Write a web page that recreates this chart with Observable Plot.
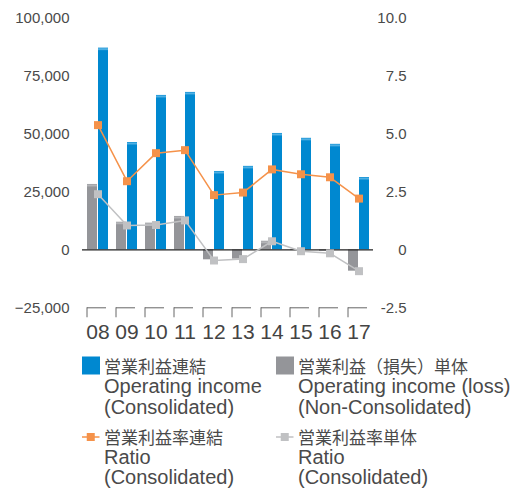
<!DOCTYPE html>
<html>
<head>
<meta charset="utf-8">
<script src="https://cdn.jsdelivr.net/npm/d3@7"></script>
<script src="https://cdn.jsdelivr.net/npm/@observablehq/plot@0.6"></script>
<style>
  html, body { margin: 0; padding: 0; background: #fff; }
  body { width: 520px; font-family: "Liberation Sans", Arial, "Noto Sans CJK JP", sans-serif; color: #4a4a4a; }
  #legend { position: relative; height: 138px; }
  .item { position: absolute; }
  .sym { position: absolute; left: 0; top: 0; }
  .txt { position: absolute; white-space: nowrap; font-size: 20px; }
  .jp { font-family: "Noto Sans CJK JP", sans-serif; font-size: 17px; display: block; }
</style>
</head>
<body>
<div id="chart"></div>
<div id="legend"></div>
<script>
const years = ["08", "09", "10", "11", "12", "13", "14", "15", "16", "17"];
const consolidatedIncome = [87000, 46300, 66600, 67900, 33800, 36000, 50200, 48100, 45500, 31200];
const nonConsolidatedIncome = [28200, 11900, 11500, 14400, -4300, -4000, 3700, -300, -600, -9200];
const ratioConsolidated = [5.38, 2.96, 4.17, 4.30, 2.36, 2.47, 3.47, 3.26, 3.13, 2.21];
const ratioNonConsolidated = [2.40, 1.05, 1.07, 1.27, -0.46, -0.40, 0.37, -0.06, -0.15, -0.92];
const leftTicks = [-25000, 0, 25000, 50000, 75000, 100000];
const rightTicks = [-2.5, 0, 2.5, 5, 7.5, 10];

const BLUE = "#0088d0", BLUE_CAP = "#4fb0e3";
const GRAY = "#949599", GRAY_CAP = "#b4b5b8";
const ORANGE = "#f5924a";
const LGRAY = "#c0c1c3";
const TXT = "#4a4a4a";

const rows = years.map((year, i) => ({
  year,
  cons: consolidatedIncome[i],
  non: nonConsolidatedIncome[i],
  rc: ratioConsolidated[i] * 10000,
  rn: ratioNonConsolidated[i] * 10000
}));

const chart = Plot.plot({
  width: 520,
  height: 350,
  marginLeft: 78,
  marginRight: 143,
  marginTop: 17.5,
  marginBottom: 42.7,
  x: { type: "band", domain: years, padding: 0, axis: null },
  y: { domain: [-25000, 100000], axis: null },
  style: { fontFamily: '"Liberation Sans", Arial, sans-serif', background: "white" },
  marks: [
    Plot.barY(rows, { x: "year", y: "non", fill: GRAY, insetLeft: 4, insetRight: 15 }),
    Plot.tickY(rows.filter(d => d.non > 0), { x: "year", y: "non", stroke: GRAY_CAP, strokeWidth: 2, insetLeft: 4, insetRight: 15, dy: 1 }),
    Plot.barY(rows, { x: "year", y: "cons", fill: BLUE, insetLeft: 15, insetRight: 4 }),
    Plot.tickY(rows, { x: "year", y: "cons", stroke: BLUE_CAP, strokeWidth: 2, insetLeft: 15, insetRight: 4, dy: 1 }),
    Plot.ruleY([0], { stroke: "#222", strokeWidth: 1.2, insetLeft: 4, insetRight: 4 }),
    Plot.line(rows, { x: "year", y: "rn", stroke: LGRAY, strokeWidth: 1.5 }),
    Plot.dot(rows, { x: "year", y: "rn", symbol: "square", r: 4.5, fill: LGRAY, stroke: "none" }),
    Plot.line(rows, { x: "year", y: "rc", stroke: ORANGE, strokeWidth: 1.5 }),
    Plot.dot(rows, { x: "year", y: "rc", symbol: "square", r: 4.5, fill: ORANGE, stroke: "none" }),
    // x brackets
    Plot.tickY(years, { x: d => d, y: () => -25000, stroke: "#666", strokeWidth: 1, insetLeft: 4, insetRight: 6 }),
    Plot.ruleX(years, { x: d => d, y1: () => -25000, y2: () => -29300, dx: -11, stroke: "#666", strokeWidth: 1 }),
    // x labels
    Plot.text(years, { x: d => d, text: d => d, frameAnchor: "bottom", dy: 24, fontSize: 21, fill: "#444", lineAnchor: "middle" }),
    // left axis labels
    Plot.text(leftTicks, { y: d => d, text: d => d3.format(",")(d), frameAnchor: "left", dx: -9, textAnchor: "end", fontSize: 15, fill: TXT }),
    // right axis labels
    Plot.text(rightTicks, { y: d => d * 10000, text: d => d === 0 ? "0" : d.toFixed(1), frameAnchor: "right", dx: 29, textAnchor: "end", fontSize: 15, fill: TXT })
  ]
});
document.getElementById("chart").appendChild(chart);

// Legend
const legendItems = [
  { kind: "box", color: BLUE, jp: "営業利益連結", en: ["Operating income", "(Consolidated)"], left: 82, top: 4.5, lh: 21 },
  { kind: "box", color: GRAY, jp: "営業利益（損失）単体", en: ["Operating income (loss)", "(Non-Consolidated)"], left: 276, top: 4.5, lh: 21 },
  { kind: "line", color: ORANGE, jp: "営業利益率連結", en: ["Ratio", "(Consolidated)"], left: 82, top: 77, lh: 20 },
  { kind: "line", color: LGRAY, jp: "営業利益率単体", en: ["Ratio", "(Consolidated)"], left: 276, top: 77, lh: 20 }
];
const legend = d3.select("#legend");
for (const it of legendItems) {
  const g = legend.append("div").attr("class", "item").style("left", it.left + "px").style("top", it.top + "px");
  const s = g.append("svg").attr("class", "sym").attr("width", 20).attr("height", it.lh);
  const c = it.lh / 2;
  if (it.kind === "box") {
    s.append("rect").attr("x", 0).attr("y", c - 9).attr("width", 18).attr("height", 18).attr("fill", it.color);
  } else {
    s.append("line").attr("x1", 0).attr("x2", 17.5).attr("y1", c).attr("y2", c).attr("stroke", it.color).attr("stroke-width", 1.5);
    s.append("rect").attr("x", 4.75).attr("y", c - 4).attr("width", 8).attr("height", 8).attr("fill", it.color);
  }
  const t = g.append("div").attr("class", "txt").style("left", "22px").style("top", "0px").style("line-height", it.lh + "px");
  t.append("span").attr("class", "jp").style("line-height", it.lh + "px").text(it.jp);
  for (const line of it.en) t.append("span").style("display", "block").text(line);
}
</script>
</body>
</html>
